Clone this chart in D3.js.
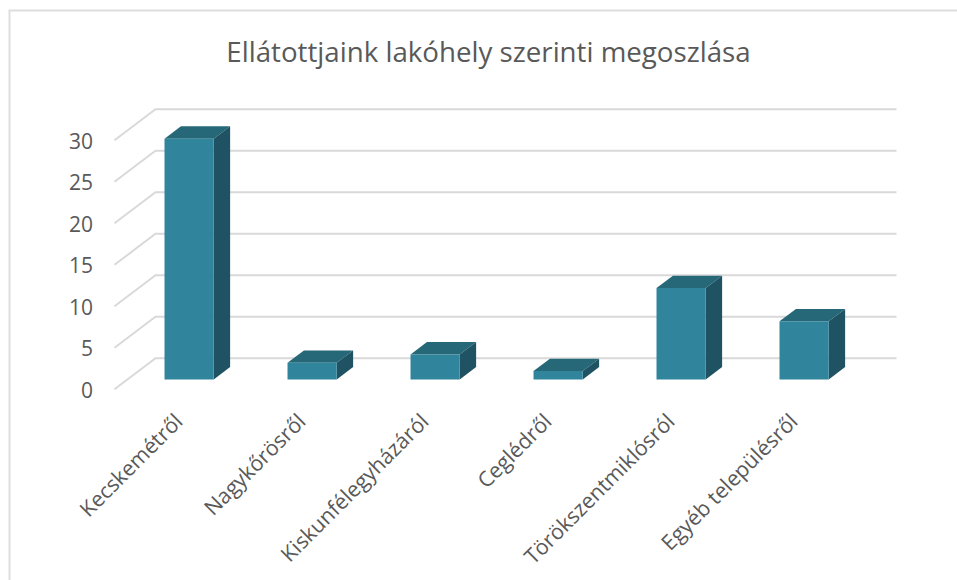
<!DOCTYPE html>
<html>
<head>
<meta charset="utf-8">
<script src="https://cdn.jsdelivr.net/npm/d3@7"></script>
<style>
html, body { margin: 0; padding: 0; background: #fff; }
text { font-family: "Open Sans", sans-serif; fill: #595959; }
</style>
</head>
<body>
<svg id="chart"></svg>
<script>
var w = 957;
var h = 580;

var categories = ["Kecskemétről", "Nagykőrösről", "Kiskunfélegyházáról", "Ceglédről", "Törökszentmiklósról", "Egyéb településről"];
var values = [29, 2, 3, 1, 11, 7];
var yTicks = [0, 5, 10, 15, 20, 25, 30];
var chartTitle = "Ellátottjaink lakóhely szerinti megoszlása";

// front edge of the floor, walls sit one full depth behind it
var floorLeft = 114.5;
var floorRight = 855.5;
var x = d3.scaleBand().domain(categories).range([114.5, 852.5]).paddingInner(0.6).paddingOuter(0.3);
var y = d3.scaleLinear().domain([0, 30]).range([389.3, 140.3]);
var depthX = 41;
var depthY = -31;
var barFront = 0.32;
var barBack = 0.72;

var svg = d3.select("#chart")
	.attr("width", w)
	.attr("height", h)
	.style("display", "block");

svg.append("rect")
	.attr("x", 9.5)
	.attr("y", 10.5)
	.attr("width", 960)
	.attr("height", 580)
	.attr("fill", "#fff")
	.attr("stroke", "#dedede")
	.attr("stroke-width", 2);

svg.append("text")
	.attr("x", 488.5)
	.attr("y", 61.5)
	.attr("text-anchor", "middle")
	.style("font-size", "27.7px")
	.text(chartTitle);

var grid = svg.append("g")
	.attr("fill", "none")
	.attr("stroke", "#d9d9d9")
	.attr("stroke-width", 2);

grid.selectAll("path")
	.data(yTicks)
	.enter().append("path")
	.attr("d", function(d) {
		var p = d3.path();
		p.moveTo(floorLeft, y(d));
		p.lineTo(floorLeft + depthX, y(d) + depthY);
		p.lineTo(floorRight + depthX, y(d) + depthY);
		return p.toString();
	});

svg.append("g").selectAll("text")
	.data(yTicks)
	.enter().append("text")
	.attr("x", 93)
	.attr("y", function(d) { return y(d) + 8.5; })
	.attr("text-anchor", "end")
	.style("font-size", "21px")
	.text(function(d) { return d; });

function pt(px, py, depth) {
	return [px + depthX * depth, py + depthY * depth];
}

var bars = svg.append("g").selectAll("g")
	.data(categories)
	.enter().append("g");

function poly(pts) {
	return pts.map(function(p) { return p.join(","); }).join(" ");
}

// top face
bars.append("polygon")
	.attr("fill", "#266878")
	.attr("points", function(d, i) {
		var x0 = x(d), x1 = x0 + x.bandwidth(), yv = y(values[i]);
		return poly([pt(x0, yv, barFront), pt(x1, yv, barFront), pt(x1, yv, barBack), pt(x0, yv, barBack)]);
	});

// side face
bars.append("polygon")
	.attr("fill", "#1f5363")
	.attr("points", function(d, i) {
		var x1 = x(d) + x.bandwidth(), yv = y(values[i]), y0 = y(0);
		return poly([pt(x1, y0, barFront), pt(x1, yv, barFront), pt(x1, yv, barBack), pt(x1, y0, barBack)]);
	});

// front face
bars.append("polygon")
	.attr("fill", "#30849b")
	.attr("points", function(d, i) {
		var x0 = x(d), x1 = x0 + x.bandwidth(), yv = y(values[i]), y0 = y(0);
		return poly([pt(x0, y0, barFront), pt(x1, y0, barFront), pt(x1, yv, barFront), pt(x0, yv, barFront)]);
	});

svg.append("g").selectAll("text")
	.data(categories)
	.enter().append("text")
	.attr("transform", function(d) {
		var cx = x(d) + x.bandwidth() / 2 + 8;
		return "translate(" + cx + ",423) rotate(-45)";
	})
	.attr("text-anchor", "end")
	.style("font-size", "21.3px")
	.text(function(d) { return d; });
</script>
</body>
</html>
